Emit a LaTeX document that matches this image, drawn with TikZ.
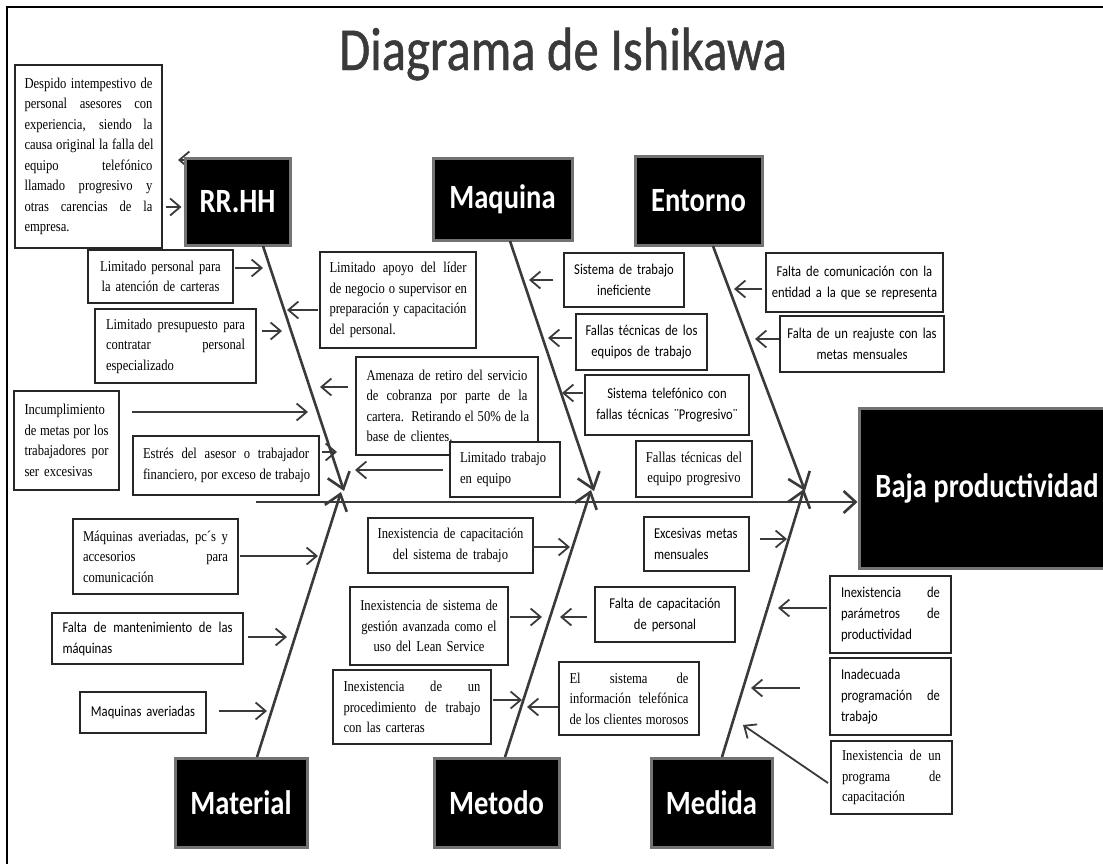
\documentclass[tikz,border=0pt]{standalone}
\usepackage{fontspec}
\usetikzlibrary{arrows.meta}
\newfontfamily\tnr{Liberation Serif}[FakeStretch=0.84]
\newfontfamily\calf{Carlito}[FakeStretch=0.84]
\newfontfamily\ttlf{Carlito}[FakeStretch=0.83,FakeBold=0.8]
\newcommand\J[1]{\leavevmode\hbox to \linewidth{\spaceskip=.25em plus 1fil\relax #1}}
\definecolor{ln}{HTML}{3A3A3A}
\definecolor{ttl}{HTML}{3A3A3A}
\begin{document}
\begin{tikzpicture}[x=1pt,y=-1pt,
  bx/.style={draw=black!85, line width=1.1pt, fill=white, inner sep=0pt, outer sep=0pt},
  tr/.style={font=\tnr\fontsize{15}{20.5}\selectfont},
  cl/.style={font=\calf\fontsize{15}{21}\selectfont},
  cat/.style={fill=black, draw=black!55, line width=3pt, text=white, inner sep=0pt,
    font=\calf\bfseries\fontsize{34}{40}\selectfont},
  arr/.style={draw=ln, line width=1.8pt, -{Straight Barb[length=10pt,width=17pt]}},
  spine/.style={draw=ln, line width=2.6pt, -{Straight Barb[length=15pt,width=23pt]}},
  mainarr/.style={draw=ln, line width=2.6pt, -{Straight Barb[length=12pt,width=22pt]}}]
\useasboundingbox (0,0) rectangle (1103,863);
\clip (0,0) rectangle (1103,863);
\fill[white] (0,0) rectangle (1103,863);
% frame
\draw[black, line width=1.6pt] (7,870) -- (7,7) -- (1110,7);
% title
\node[font=\ttlf\fontsize{61}{70}\selectfont, text=ttl, anchor=base] (title) at (563,70) {Diagrama de Ishikawa};

% spine coordinates
\coordinate (sp0) at (256,502);
\coordinate (rrA) at (263,246); \coordinate (rrB) at (344,491);
\coordinate (mqA) at (510,241); \coordinate (mqB) at (594,491);
\coordinate (enA) at (713,246); \coordinate (enB) at (805,491);
\coordinate (maA) at (257,757); \coordinate (maB) at (341,492);
\coordinate (meA) at (505,757); \coordinate (meB) at (591,490);
\coordinate (mdA) at (722,757); \coordinate (mdB) at (804,489);

% hidden arrow behind RR.HH
\coordinate (t0) at (178,160);
\coordinate (s0) at (215,160);
\draw[arr] (s0) -- (t0);

% category boxes
\node[cat, minimum width=105pt, minimum height=87pt] (rrhh) at (237.5,201.5) {RR.HH};
\node[cat, minimum width=139pt, minimum height=82pt] (maq) at (502.5,199) {Maquina};
\node[cat, minimum width=127pt, minimum height=89pt] (ent) at (698.5,200.5) {Entorno};
\node[cat, minimum width=256pt, minimum height=160pt] (baja) at (987,488) {Baja productividad};
\node[cat, minimum width=132pt, minimum height=89pt] (mat) at (241,802.5) {Material};
\node[cat, minimum width=125pt, minimum height=89pt] (met) at (496.5,802.5) {Metodo};
\node[cat, minimum width=121pt, minimum height=89pt] (med) at (711.5,802.5) {Medida};

% spines
\draw[mainarr] (sp0) -- (baja.west |- sp0);
\draw[spine] (rrA) -- (rrB);
\draw[spine] (mqA) -- (mqB);
\draw[spine] (enA) -- (enB);
\draw[spine] (maA) -- (maB);
\draw[spine] (meA) -- (meB);
\draw[spine] (mdA) -- (mdB);

% cause boxes (top)
\node[bx,tr,minimum width=147pt,minimum height=183pt,text width=128pt,align=left] (desp) at (88.5,156.5)
 {\J{Despido intempestivo de}\\\J{personal asesores con}\\\J{experiencia, siendo la}\\\J{causa original la falla del}\\\J{equipo telefónico}\\\J{llamado progresivo y}\\\J{otras carencias de la}\\empresa.};
\node[bx,tr,minimum width=145pt,minimum height=53pt,text width=135pt,align=center] (lper) at (160.5,276.5)
 {Limitado personal para\\la atención de carteras};
\node[bx,tr,minimum width=161pt,minimum height=74pt,text width=139pt,align=left] (lpre) at (175.5,346)
 {\J{Limitado presupuesto para}\\\J{contratar personal}\\especializado};
\node[bx,tr,minimum width=105pt,minimum height=99pt,text width=84pt,align=left] (inc) at (66.5,440.5)
 {\J{Incumplimiento}\\\J{de metas por los}\\\J{trabajadores por}\\ser excesivas};
\node[bx,tr,minimum width=186pt,minimum height=59pt,text width=166pt,align=left] (estr) at (226,465.5)
 {\J{Estrés del asesor o trabajador}\\\J{financiero, por exceso de trabajo}};
\node[bx,tr,minimum width=156pt,minimum height=96pt,text width=137pt,align=left] (apoyo) at (398,300)
 {\J{Limitado apoyo del líder}\\\J{de negocio o supervisor en}\\\J{preparación y capacitación}\\del personal.};
\node[bx,tr,minimum width=182pt,minimum height=98pt,text width=161pt,align=left] (amen) at (447,406)
 {\J{Amenaza de retiro del servicio}\\\J{de cobranza por parte de la}\\\J{cartera. Retirando el 50\% de la}\\base de clientes.};
\node[bx,tr,minimum width=110pt,minimum height=55pt,text width=90pt,align=left] (ltrab) at (505,469.5)
 {Limitado trabajo\\en equipo};
\node[bx,cl,minimum width=120pt,minimum height=54pt,text width=112pt,align=center] (sist) at (624,280)
 {Sistema de trabajo\\ineficiente};
\node[bx,cl,minimum width=131pt,minimum height=56pt,text width=125pt,align=center] (fallas) at (641.5,342)
 {Fallas técnicas de los\\equipos de trabajo};
\node[bx,cl,minimum width=164pt,minimum height=60pt,text width=158pt,align=center] (stel) at (667,405)
 {Sistema telefónico con\\fallas técnicas ¨Progresivo¨};
\node[bx,tr,minimum width=116pt,minimum height=56pt,text width=110pt,align=center] (fprog) at (694,469)
 {Fallas técnicas del\\equipo progresivo};
\node[bx,cl,minimum width=177pt,minimum height=59pt,text width=172pt,align=center] (fcom) at (854.5,282.5)
 {Falta de comunicación con la\\entidad a la que se representa};
\node[bx,cl,minimum width=164pt,minimum height=56pt,text width=158pt,align=center] (freaj) at (862,344)
 {Falta de un reajuste con las\\metas mensuales};

% cause boxes (bottom)
\node[bx,tr,minimum width=165pt,minimum height=75pt,text width=145pt,align=left] (maqav) at (155.5,556.5)
 {\J{Máquinas averiadas, pc´s y}\\\J{accesorios para}\\comunicación};
\node[bx,cl,minimum width=191pt,minimum height=51pt,text width=170pt,align=left] (fmant) at (147.5,638.5)
 {\J{Falta de mantenimiento de las}\\máquinas};
\node[bx,cl,minimum width=126pt,minimum height=41pt,text width=120pt,align=center] (maqs) at (143,712.5)
 {Maquinas averiadas};
\node[bx,tr,minimum width=165pt,minimum height=55pt,text width=160pt,align=center] (icap) at (450.5,545.5)
 {Inexistencia de capacitación\\del sistema de trabajo};
\node[bx,tr,minimum width=158pt,minimum height=78pt,text width=152pt,align=center] (igest) at (429,626)
 {Inexistencia de sistema de\\gestión avanzada como el\\uso del Lean Service};
\node[bx,cl,minimum width=140pt,minimum height=55pt,text width=134pt,align=center] (fcap) at (665,614.5)
 {Falta de capacitación\\de personal};
\node[bx,tr,minimum width=158pt,minimum height=74pt,text width=137pt,align=left] (iproc) at (412,707)
 {\J{Inexistencia de un}\\\J{procedimiento de trabajo}\\con las carteras};
\node[bx,tr,minimum width=140pt,minimum height=73pt,text width=119pt,align=left] (elsis) at (629,698.5)
 {\J{El sistema de}\\\J{información telefónica}\\\J{de los clientes morosos}};
\node[bx,cl,minimum width=105pt,minimum height=54pt,text width=85pt,align=left] (exc) at (696.5,544)
 {Excesivas metas\\mensuales};
\node[bx,cl,minimum width=121pt,minimum height=77pt,text width=99pt,align=left] (ipar) at (890.5,614.5)
 {\J{Inexistencia de}\\\J{parámetros de}\\productividad};
\node[bx,cl,minimum width=121pt,minimum height=77pt,text width=99pt,align=left] (inad) at (890.5,696.5)
 {Inadecuada\\\J{programación de}\\trabajo};
\node[bx,tr,minimum width=121pt,minimum height=73pt,text width=99pt,align=left] (iprog) at (891.5,777.5)
 {\J{Inexistencia de un}\\\J{programa de}\\capacitación};

% arrows: top
\draw[arr] ([shift={(4,50.5)}]desp.east) -- ([shift={(-2,5.5)}]rrhh.west);
\draw[arr] ([shift={(2,-8.5)}]lper.east) -- ++(28,0);
\draw[arr] ([shift={(6,-15)}]lpre.east) -- ++(20,0);
\draw[arr] ([shift={(-2,10)}]apoyo.west) -- ++(-31,0);
\draw[arr] ([shift={(-8,-19)}]amen.west) -- ++(-28,0);
\draw[arr] ([shift={(13,-28.5)}]inc.east) -- ++(176,0);
\draw[arr] ([shift={(3,-13.5)}]estr.east) -- ++(15,0);
\draw[arr] ([shift={(-7,0.5)}]ltrab.west) -- ++(-88,0);
\draw[arr] ([shift={(-11,0)}]sist.west) -- ++(-24,0);
\draw[arr] ([shift={(-4,-4)}]fallas.west) -- ++(-24,0);
\draw[arr] ([shift={(-2,-12)}]stel.west) -- ++(-21,0);
\draw[arr] ([shift={(-4,6.5)}]fcom.west) -- ++(-28,0);
\draw[arr] ([shift={(-1,-5)}]freaj.west) -- ++(-24,0);
% arrows: bottom
\draw[arr] ([shift={(2,-0.5)}]maqav.east) -- ++(78,0);
\draw[arr] ([shift={(5,-1.5)}]fmant.east) -- ++(39,0);
\draw[arr] ([shift={(13,-1.5)}]maqs.east) -- ++(48,0);
\draw[arr] ([shift={(0,1.5)}]icap.east) -- ++(37,0);
\draw[arr] ([shift={(2,-9)}]igest.east) -- ++(32,0);
\draw[arr] ([shift={(-8,2.5)}]fcap.west) -- ++(-27,0);
\draw[arr] ([shift={(2,-7)}]iproc.east) -- ++(29,0);
\draw[arr] ([shift={(-1,8.5)}]elsis.west) -- ++(-31,0);
\draw[arr] ([shift={(11,-5)}]exc.east) -- ++(27,0);
\draw[arr] ([shift={(-3,-6.5)}]ipar.west) -- ++(-49,0);
\draw[arr] ([shift={(-30,-8.5)}]inad.west) -- ++(-49,0);
\draw[arr] ([shift={(-3,5.5)}]iprog.west) -- ++(-85,-58);
\end{tikzpicture}
\end{document}
